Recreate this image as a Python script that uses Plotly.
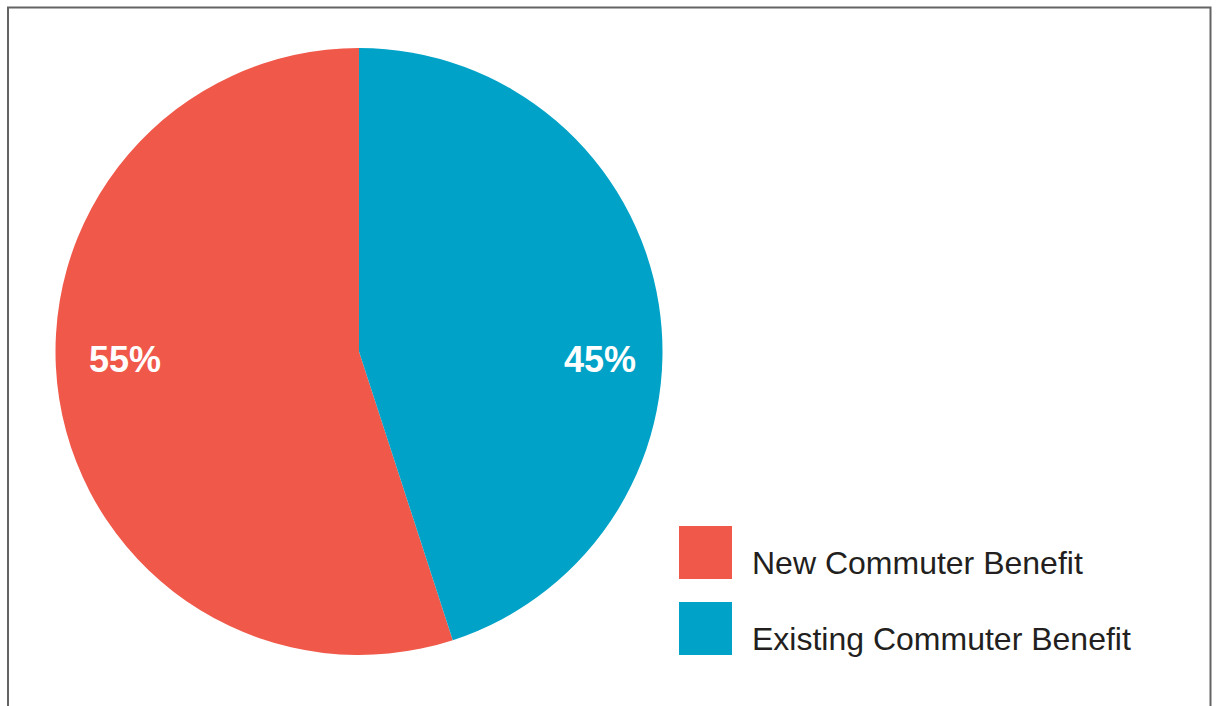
import plotly.graph_objects as go

categories = ["New Commuter Benefit", "Existing Commuter Benefit"]
values = [55, 45]
colors = ["#F0584A", "#00A3C7"]

W, H = 1216, 706


def px(x):
    return x / W


def py(y):
    return 1 - y / H


FONT = "Liberation Sans, Arial, Helvetica, sans-serif"

cx, cy, r = 359, 351.5, 303.5
total = sum(values)

fig = go.Figure(go.Pie(
    labels=categories,
    values=values,
    sort=False,
    direction="clockwise",
    rotation=360 * values[1] / total,
    marker=dict(colors=colors, line=dict(width=0)),
    textinfo="none",
    domain=dict(x=[px(cx - r), px(cx + r)], y=[py(cy + r), py(cy - r)]),
    showlegend=False,
    hoverinfo="label+percent",
))

label_x = [cx - 0.77 * r, cx + 0.795 * r]
annotations = []
for v, lx in zip(values, label_x):
    annotations.append(dict(xref="paper", yref="paper", x=px(lx), y=py(359),
                            xanchor="center", yanchor="middle", showarrow=False,
                            text=f"{round(100 * v / total)}%",
                            font=dict(family=FONT, size=36, color="white", weight="bold")))

shapes = [dict(type="rect", xref="paper", yref="paper",
               x0=px(8), x1=px(1210.5), y0=-0.05, y1=py(7.5),
               line=dict(color="#646464", width=2), fillcolor="rgba(0,0,0,0)", layer="above")]
sw_top = [526, 602]
for i, (cat, col) in enumerate(zip(categories, colors)):
    t = sw_top[i]
    shapes.append(dict(type="rect", xref="paper", yref="paper",
                       x0=px(679), x1=px(732), y0=py(t + 53), y1=py(t),
                       fillcolor=col, line=dict(width=0)))
    annotations.append(dict(xref="paper", yref="paper", x=px(750), y=py(t + 36.5),
                            xanchor="left", yanchor="middle", showarrow=False, text=cat,
                            font=dict(family=FONT, size=32, color="#231F20")))

fig.update_layout(
    width=W, height=H,
    margin=dict(l=0, r=0, t=0, b=0),
    paper_bgcolor="white", plot_bgcolor="white",
    shapes=shapes, annotations=annotations,
)

fig.write_html("out.html", config={"displayModeBar": False},
               post_script="document.body.style.margin='0';document.body.style.overflow='hidden';")
